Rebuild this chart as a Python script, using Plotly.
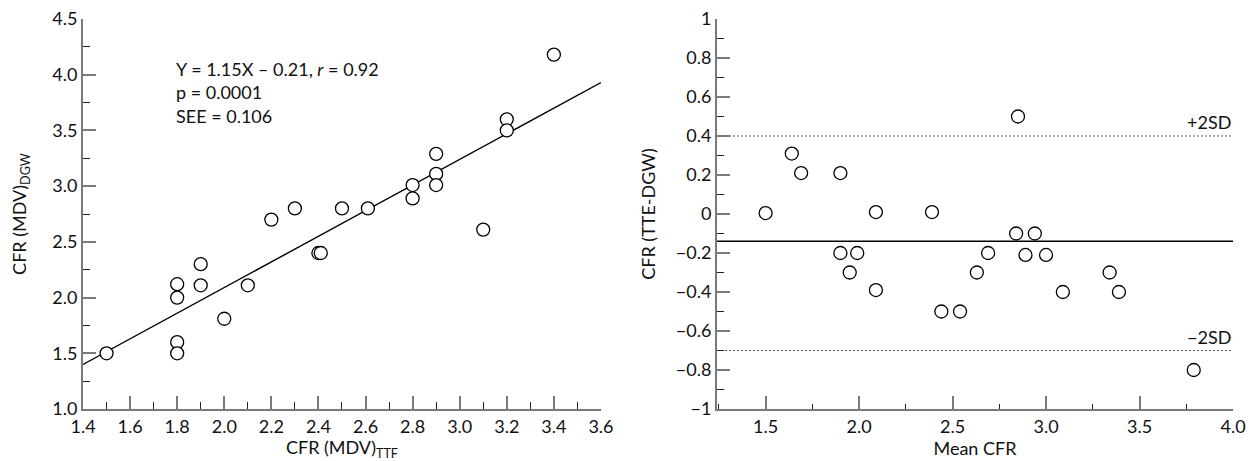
import plotly.graph_objects as go
from plotly.subplots import make_subplots

# ---- data: left panel (regression) ----
tte_cfr = [1.5, 1.8, 1.8, 1.8, 1.8, 1.9, 1.9, 2.0, 2.1, 2.2, 2.3, 2.4, 2.41,
           2.5, 2.61, 2.8, 2.8, 2.9, 2.9, 2.9, 3.1, 3.2, 3.2, 3.4]
dgw_cfr = [1.5, 2.12, 2.0, 1.6, 1.5, 2.3, 2.11, 1.81, 2.11, 2.7, 2.8, 2.4, 2.4,
           2.8, 2.8, 3.01, 2.89, 3.29, 3.11, 3.01, 2.61, 3.6, 3.5, 4.18]
reg_slope = 1.15
reg_intercept = -0.21
x1_range = [1.4, 3.6]
y1_range = [1.0, 4.5]
stats_text = "Y = 1.15X \u2013 0.21, <i>r</i> = 0.92<br>p = 0.0001<br>SEE = 0.106"

# ---- data: right panel (Bland-Altman) ----
mean_cfr = [1.5, 1.64, 1.69, 1.9, 1.9, 1.95, 1.99, 2.09, 2.09, 2.39, 2.44, 2.54,
            2.63, 2.69, 2.85, 2.84, 2.89, 2.94, 3.0, 3.09, 3.34, 3.39, 3.79]
diff_cfr = [0.005, 0.31, 0.21, 0.21, -0.2, -0.3, -0.2, 0.01, -0.39, 0.01, -0.5, -0.5,
            -0.3, -0.2, 0.5, -0.1, -0.21, -0.1, -0.21, -0.4, -0.3, -0.4, -0.8]
mean_diff = -0.14
upper_2sd = 0.4
lower_2sd = -0.7
x2_range = [1.24, 4.0]
y2_range = [-1.0, 1.0]
y2_tickvals = [1, 0.8, 0.6, 0.4, 0.2, 0, -0.2, -0.4, -0.6, -0.8, -1]
y2_ticktext = ["1", "0.8", "0.6", "0.4", "0.2", "0", "\u22120.2", "\u22120.4",
               "\u22120.6", "\u22120.8", "\u22121"]

FONT = "Lato, 'Open Sans', sans-serif"
AXIS_COL = "#7a7a7a"
TXT = "#111"

fig = make_subplots(rows=1, cols=2, horizontal_spacing=0.1)

marker = dict(size=13, color="white", line=dict(color="black", width=1.3))

# regression line
reg_y = [reg_slope * v + reg_intercept for v in x1_range]
fig.add_trace(go.Scatter(x=x1_range, y=reg_y, mode="lines",
                         line=dict(color="black", width=1.4), showlegend=False,
                         hoverinfo="skip"), row=1, col=1)
fig.add_trace(go.Scatter(x=tte_cfr, y=dgw_cfr, mode="markers", marker=marker,
                         showlegend=False), row=1, col=1)

# Bland-Altman lines
fig.add_trace(go.Scatter(x=x2_range, y=[upper_2sd, upper_2sd], mode="lines",
                         line=dict(color="#555", width=1.2, dash="2px,2px"),
                         showlegend=False, hoverinfo="skip"), row=1, col=2)
fig.add_trace(go.Scatter(x=x2_range, y=[lower_2sd, lower_2sd], mode="lines",
                         line=dict(color="#555", width=1.2, dash="2px,2px"),
                         showlegend=False, hoverinfo="skip"), row=1, col=2)
fig.add_trace(go.Scatter(x=x2_range, y=[mean_diff, mean_diff], mode="lines",
                         line=dict(color="black", width=1.4),
                         showlegend=False, hoverinfo="skip"), row=1, col=2)
fig.add_trace(go.Scatter(x=mean_cfr, y=diff_cfr, mode="markers", marker=marker,
                         showlegend=False), row=1, col=2)

axis_common = dict(showline=True, linecolor=AXIS_COL, linewidth=2, showgrid=False,
                   zeroline=False, ticks="inside", ticklen=13, tickwidth=1.5,
                   tickcolor=AXIS_COL, tickfont=dict(family=FONT, size=18, color=TXT),
                   mirror=False)
title_font = dict(family=FONT, size=18, color=TXT)

fig.update_xaxes(**axis_common, row=1, col=1, range=x1_range, tick0=1.4, dtick=0.2,
                 tickformat=".1f",
                 minor=dict(ticks="inside", ticklen=7, dtick=0.1, tick0=1.4,
                            tickcolor="#222", tickwidth=1.3),
                 title=dict(text="CFR (MDV)<sub>TTF</sub>", standoff=5, font=title_font))
fig.update_yaxes(**axis_common, row=1, col=1, range=y1_range, tick0=1.0, dtick=0.5,
                 tickformat=".1f",
                 minor=dict(ticks="inside", ticklen=7, dtick=0.25, tick0=1.0,
                            tickcolor="#222", tickwidth=1.3),
                 title=dict(text="CFR (MDV)<sub>DGW</sub>", standoff=21, font=title_font))
fig.update_xaxes(**axis_common, row=1, col=2, range=x2_range, tick0=1.5, dtick=0.5,
                 tickformat=".1f",
                 minor=dict(ticks="inside", ticklen=5, dtick=0.25, tick0=1.5,
                            tickcolor="#222", tickwidth=1.3),
                 title=dict(text="Mean CFR", standoff=5, font=title_font))
fig.update_yaxes(**axis_common, row=1, col=2, range=y2_range, tickmode="array",
                 tickvals=y2_tickvals, ticktext=y2_ticktext,
                 minor=dict(ticks="inside", ticklen=7, dtick=0.1, tick0=0,
                            tickcolor="#222", tickwidth=1.3),
                 title=dict(text="CFR (TTE-DGW)", standoff=16, font=title_font))

# stats text (left panel)
fig.add_annotation(xref="x domain", yref="paper", x=0.175, y=1 - 37 / 390,
                   text=stats_text, showarrow=False, xanchor="left", yanchor="top",
                   align="left", font=dict(family=FONT, size=18, color=TXT))

# SD labels (right panel)
fig.add_annotation(xref="x2", yref="y2", x=x2_range[1], y=upper_2sd, text="+2SD",
                   showarrow=False, xanchor="right", yanchor="bottom", yshift=1,
                   font=dict(family=FONT, size=18, color=TXT))
fig.add_annotation(xref="x2", yref="y2", x=x2_range[1], y=lower_2sd, text="\u22122SD",
                   showarrow=False, xanchor="right", yanchor="bottom", yshift=1,
                   font=dict(family=FONT, size=18, color=TXT))

fig.update_layout(
    width=1253, height=461,
    margin=dict(l=83, r=20, t=19, b=52, autoexpand=False),
    paper_bgcolor="white", plot_bgcolor="white",
    font=dict(family=FONT, size=18, color=TXT),
    xaxis=dict(domain=[0, 0.4504]),
    xaxis2=dict(domain=[0.5513, 1]),
    showlegend=False,
)

fig.write_html("out.html", config={"displayModeBar": False},
               post_script="document.body.style.margin='0';document.body.style.overflow='hidden';")
